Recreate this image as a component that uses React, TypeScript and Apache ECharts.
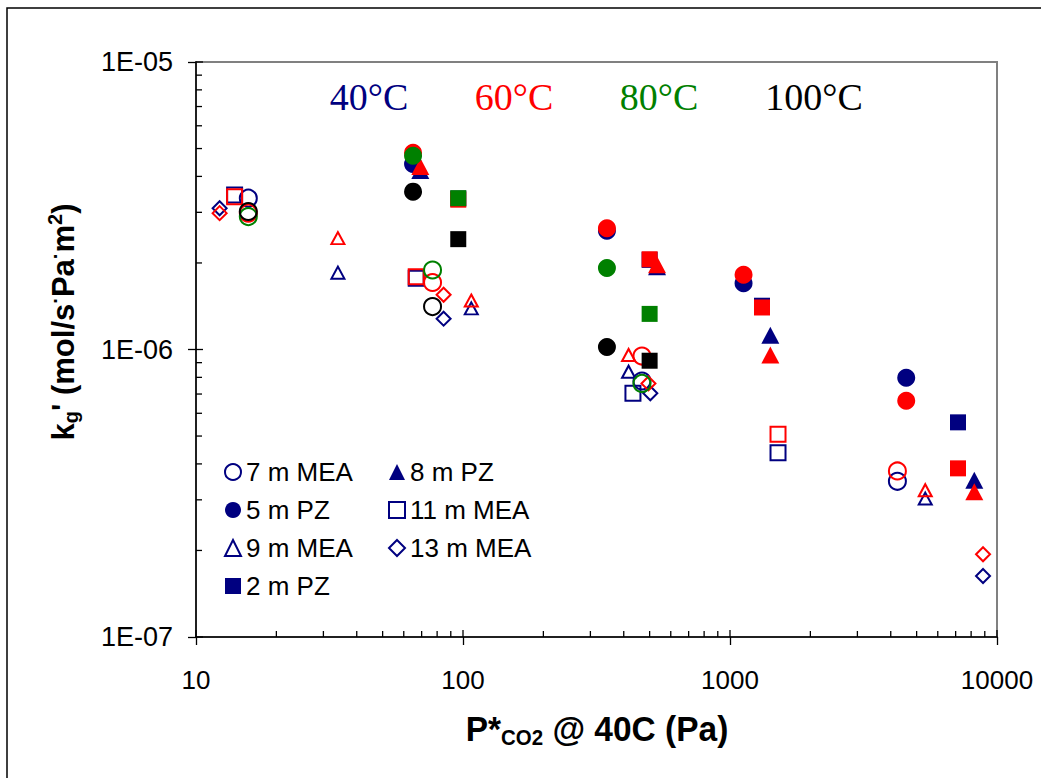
import { useEffect, useRef } from "react";
import * as echarts from "echarts";

const NAVY = "#000080";
const RED = "#FF0000";
const GREEN = "#008000";
const BLACK = "#000000";

const temperatures = ["40°C", "60°C", "80°C", "100°C"];
const tempColors = [NAVY, RED, GREEN, BLACK];

// [P*CO2 @ 40C (Pa), kg' (mol/s·Pa·m²)]
const mea7_40 = [[15.7, 3.36e-6], [468, 7.77e-7], [4236, 3.48e-7]];
const mea7_60 = [[15.7, 2.98e-6], [76.9, 1.71e-6], [468, 9.49e-7], [4236, 3.78e-7]];
const mea7_80 = [[15.7, 2.9e-6], [76.9, 1.89e-6], [468, 7.62e-7]];
const mea7_100 = [[15.7, 3.02e-6], [76.9, 1.41e-6]];

const pz5_40 = [[65, 4.42e-6], [346, 2.59e-6], [1124, 1.7e-6], [4571, 7.98e-7]];
const pz5_60 = [[65, 4.83e-6], [346, 2.64e-6], [1124, 1.82e-6], [4571, 6.63e-7]];
const pz5_80 = [[65, 4.72e-6], [346, 1.92e-6]];
const pz5_100 = [[65, 3.54e-6], [346, 1.02e-6]];

const mea9_40 = [[34.0, 1.85e-6], [107.4, 1.39e-6], [417, 8.37e-7], [5386, 3.03e-7]];
const mea9_60 = [[34.0, 2.44e-6], [107.4, 1.48e-6], [417, 9.57e-7], [5386, 3.24e-7]];

const pz2_40 = [[96, 3.35e-6], [500, 2.05e-6], [1318, 1.42e-6], [7145, 5.58e-7]];
const pz2_60 = [[96, 3.32e-6], [500, 2.06e-6], [1318, 1.4e-6], [7145, 3.86e-7]];
const pz2_80 = [[96, 3.36e-6], [500, 1.33e-6]];
const pz2_100 = [[96, 2.42e-6], [500, 9.14e-7]];

const pz8_40 = [[69.2, 4.19e-6], [533, 1.94e-6], [1416, 1.12e-6], [8222, 3.51e-7]];
const pz8_60 = [[69.2, 4.33e-6], [533, 1.97e-6], [1416, 9.57e-7], [8222, 3.2e-7]];

const mea11_40 = [[13.95, 3.45e-6], [66.8, 1.77e-6], [433, 7.04e-7], [1513, 4.37e-7]];
const mea11_60 = [[13.95, 3.4e-6], [66.8, 1.79e-6], [1513, 5.07e-7]];

const mea13_40 = [[12.26, 3.1e-6], [84.6, 1.28e-6], [503, 7.04e-7], [8865, 1.63e-7]];
const mea13_60 = [[12.26, 2.98e-6], [84.6, 1.55e-6], [495, 7.62e-7], [8865, 1.94e-7]];

const legendColumn1 = ["7 m MEA", "5 m PZ", "9 m MEA", "2 m PZ"];
const legendColumn2 = ["8 m PZ", "11 m MEA", "13 m MEA"];

const xMajorTicks = [10, 100, 1000, 10000];
const yMajorTicks = [1e-7, 1e-6, 1e-5];
const minorSteps = [2, 3, 4, 5, 6, 7, 8, 9];

type Solvent = {
  name: string;
  symbol: string;
  size: number | number[];
  hollow: boolean;
  data: number[][][];
};

const solvents: Solvent[] = [
  { name: "7 m MEA", symbol: "circle", size: 17, hollow: true, data: [mea7_40, mea7_60, mea7_80, mea7_100] },
  { name: "5 m PZ", symbol: "circle", size: 18, hollow: false, data: [pz5_40, pz5_60, pz5_80, pz5_100] },
  { name: "9 m MEA", symbol: "triangle", size: [13, 12], hollow: true, data: [mea9_40, mea9_60, [], []] },
  { name: "2 m PZ", symbol: "rect", size: 16, hollow: false, data: [pz2_40, pz2_60, pz2_80, pz2_100] },
  { name: "8 m PZ", symbol: "triangle", size: [18, 17], hollow: false, data: [pz8_40, pz8_60, [], []] },
  { name: "11 m MEA", symbol: "rect", size: 15, hollow: true, data: [mea11_40, mea11_60, [], []] },
  { name: "13 m MEA", symbol: "diamond", size: 14, hollow: true, data: [mea13_40, mea13_60, [], []] },
];

const FONT = "'Liberation Sans', Arial, sans-serif";
const SERIF = "'Liberation Serif', 'Times New Roman', serif";

function buildScatterSeries() {
  const out: any[] = [];
  temperatures.forEach((t, ti) => {
    const c = tempColors[ti];
    solvents.forEach((s) => {
      const d = s.data[ti];
      if (!d.length) return;
      out.push({
        name: ti === 0 ? s.name : `${s.name} ${t}`,
        type: "scatter",
        symbol: s.symbol,
        symbolSize: s.size,
        data: d,
        z: 3,
        silent: true,
        itemStyle: s.hollow
          ? { color: "rgba(0,0,0,0)", borderColor: c, borderWidth: 2, opacity: 1 }
          : { color: c, borderWidth: 0, opacity: 1 },
      });
    });
  });
  return out;
}

function buildTickSeries() {
  // minor ticks point into the plot; majors get an inner half so they cross the axis
  const xTicks: number[][] = [];
  xMajorTicks.forEach((d) => xTicks.push([d, 1e-7, 7]));
  xMajorTicks.slice(0, -1).forEach((d) => minorSteps.forEach((m) => xTicks.push([m * d, 1e-7, 6])));
  const yTicks: number[][] = [];
  yMajorTicks.forEach((d) => yTicks.push([10, d, 7]));
  yMajorTicks.slice(0, -1).forEach((d) => minorSteps.forEach((m) => yTicks.push([10, m * d, 6])));
  const line = (x1: number, y1: number, x2: number, y2: number) => ({
    type: "line",
    shape: { x1, y1, x2, y2 },
    style: { stroke: "#000", lineWidth: 1.3 },
  });
  return [
    {
      type: "custom",
      silent: true,
      clip: false,
      z: 2,
      data: xTicks,
      renderItem: (_p: any, api: any) => {
        const pt = api.coord([api.value(0), api.value(1)]);
        return line(pt[0], pt[1], pt[0], pt[1] - api.value(2));
      },
    },
    {
      type: "custom",
      silent: true,
      clip: false,
      z: 2,
      data: yTicks,
      renderItem: (_p: any, api: any) => {
        const pt = api.coord([api.value(0), api.value(1)]);
        return line(pt[0], pt[1], pt[0] + api.value(2), pt[1]);
      },
    },
  ];
}

export default function App() {
  const ref = useRef<HTMLDivElement>(null);

  useEffect(() => {
    document.body.style.margin = "0";
    if (!ref.current) return;
    const chart = echarts.init(ref.current, undefined, { renderer: "svg" });

    const tempLabelX = [369, 514, 659, 814];
    const legendText = { fontSize: 26, fontFamily: FONT, color: "#000", lineHeight: 26 };

    chart.setOption({
      animation: false,
      backgroundColor: "#fff",
      grid: {
        left: 196,
        top: 62,
        width: 801,
        height: 575,
        show: true,
        borderColor: "#808080",
        borderWidth: 2,
        backgroundColor: "#fff",
      },
      xAxis: {
        type: "log",
        logBase: 10,
        min: 10,
        max: 10000,
        axisLine: { show: true, lineStyle: { color: "#000", width: 1.5 } },
        axisTick: { show: true, inside: false, length: 8, lineStyle: { color: "#000", width: 1.3 } },
        splitLine: { show: false },
        axisLabel: {
          margin: 30,
          fontSize: 26,
          fontFamily: FONT,
          color: "#000",
          formatter: (v: number) => String(Math.round(v)),
        },
      },
      yAxis: {
        type: "log",
        logBase: 10,
        min: 1e-7,
        max: 1e-5,
        axisLine: { show: true, lineStyle: { color: "#000", width: 1.5 } },
        axisTick: { show: true, inside: false, length: 8, lineStyle: { color: "#000", width: 1.3 } },
        splitLine: { show: false },
        axisLabel: {
          margin: 23,
          fontSize: 27,
          fontFamily: FONT,
          color: "#000",
          formatter: (v: number) => {
            const e = Math.round(Math.log10(v));
            return "1E" + (e < 0 ? "-" : "+") + String(Math.abs(e)).padStart(2, "0");
          },
        },
      },
      legend: [
        {
          orient: "vertical",
          left: 219,
          top: 454,
          itemWidth: 16,
          itemHeight: 16,
          itemGap: 12,
          selectedMode: false,
          data: legendColumn1,
          textStyle: legendText,
        },
        {
          orient: "vertical",
          left: 383,
          top: 454,
          itemWidth: 16,
          itemHeight: 16,
          itemGap: 12,
          selectedMode: false,
          data: legendColumn2,
          textStyle: legendText,
        },
      ],
      graphic: [
        {
          type: "rect",
          silent: true,
          shape: { x: 7, y: 8, width: 1100, height: 1100 },
          style: { fill: "none", stroke: "#000", lineWidth: 1.5 },
          z: 100,
        },
        ...temperatures.map((t, i) => ({
          type: "text",
          silent: true,
          x: tempLabelX[i],
          y: 97,
          style: {
            text: t,
            fill: tempColors[i],
            font: `38px ${SERIF}`,
            align: "center",
            verticalAlign: "middle",
          },
        })),
        {
          type: "group",
          x: 597,
          y: 729,
          scaleX: 0.93,
          children: [
            {
              type: "text",
              silent: true,
              style: {
                text: "{b|P*}{s|CO2}{b| @ 40C (Pa)}",
                align: "center",
                verticalAlign: "middle",
                rich: {
                  b: { fontSize: 36, fontWeight: "bold", fontFamily: FONT, fill: "#000", lineHeight: 40 },
                  s: { fontSize: 22, fontWeight: "bold", fontFamily: FONT, fill: "#000", lineHeight: 22, verticalAlign: "bottom" },
                },
              },
            },
          ],
        },
        {
          type: "text",
          silent: true,
          x: 63,
          y: 322,
          rotation: Math.PI / 2,
          style: {
            text: "{b|k}{s|g}{b|' (mol/s}{p|·}{b|Pa}{p|·}{b|m}{p|2}{b|)}",
            align: "center",
            verticalAlign: "middle",
            rich: {
              b: { fontSize: 31, fontWeight: "bold", fontFamily: FONT, fill: "#000", lineHeight: 36 },
              s: { fontSize: 20, fontWeight: "bold", fontFamily: FONT, fill: "#000", lineHeight: 20, verticalAlign: "bottom" },
              p: { fontSize: 20, fontWeight: "bold", fontFamily: FONT, fill: "#000", lineHeight: 20, verticalAlign: "top" },
            },
          },
        },
      ],
      series: [...buildTickSeries(), ...buildScatterSeries()],
    });

    return () => chart.dispose();
  }, []);

  return <div ref={ref} style={{ width: 1041, height: 778 }} />;
}
